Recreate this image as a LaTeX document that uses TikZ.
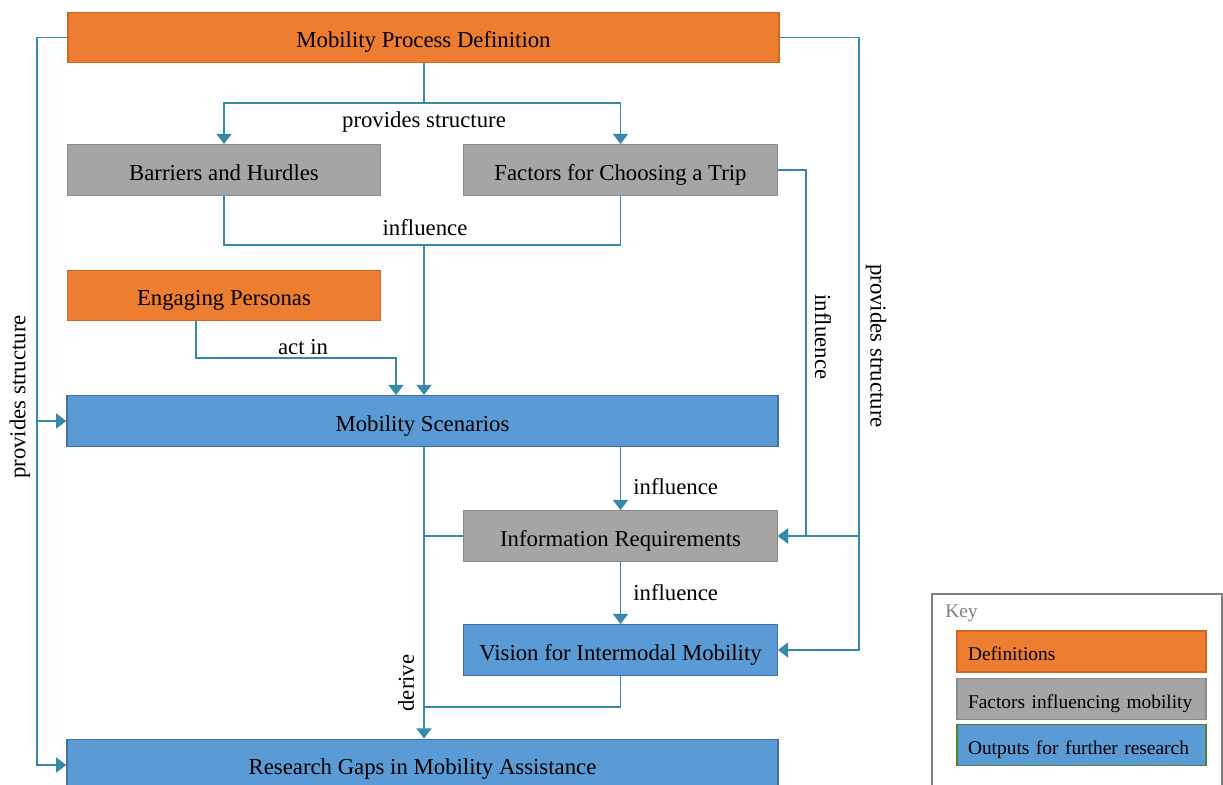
\documentclass[tikz,border=0pt]{standalone}
\usepackage{fontspec}
\setmainfont{Liberation Serif}
\usetikzlibrary{arrows.meta}

\definecolor{orgfill}{HTML}{ED7D31}
\definecolor{orgline}{HTML}{D2661E}
\definecolor{gryfill}{HTML}{A5A5A5}
\definecolor{gryline}{HTML}{8A8A8A}
\definecolor{blufill}{HTML}{5B9BD5}
\definecolor{bluline}{HTML}{41719C}
\definecolor{grnline}{HTML}{548235}
\definecolor{linkc}{HTML}{3889A8}
\definecolor{keyline}{HTML}{7F7F7F}

\newcommand{\mainsize}{\fontsize{12.9}{15}\selectfont}
\newcommand{\keysize}{\fontsize{11}{13}\selectfont}

\begin{document}
\begin{tikzpicture}[
  x=0.5667pt, y=-0.5667pt,
  box/.style={draw, line width=0.8pt, inner sep=0pt, font=\mainsize, text=black,
    text height=11.4pt, text depth=0pt},
  defn/.style={box, fill=orgfill, draw=orgline},
  factor/.style={box, fill=gryfill, draw=gryline},
  output/.style={box, fill=blufill, draw=bluline},
  wide/.style={minimum width=711*0.5667pt, minimum height=50.5*0.5667pt},
  half/.style={minimum width=313.5*0.5667pt, minimum height=50.5*0.5667pt},
  conn/.style={draw=linkc, line width=0.85pt},
  arr/.style={conn, -{Triangle[width=8.6pt,length=5.8pt]}},
  lbl/.style={font=\mainsize, inner sep=0pt},
  keyitem/.style={draw, line width=0.8pt, minimum width=249*0.5667pt, minimum height=41*0.5667pt,
    text width=(249-22)*0.5667pt, align=left, inner xsep=11*0.5667pt, inner ysep=0pt,
    font=\keysize, text height=10.6pt, text depth=0pt}
]
\clip (0,0) rectangle (1223,785);
\fill[white] (0,0) rectangle (1223,785);

% main boxes
\node[defn, wide]   (mpd)       at (423.5,37.5) {Mobility Process Definition};
\node[factor, half] (barriers)  at (224,170)    {Barriers and Hurdles};
\node[factor, half] (factors)   at (620.5,170)  {Factors for Choosing a Trip};
\node[defn, half]   (personas)  at (224,295.5)  {Engaging Personas};
\node[output, wide] (scenarios) at (422.5,421)  {Mobility Scenarios};
\node[factor, half] (inforeq)   at (620.5,536)  {Information Requirements};
\node[output, half] (vision)    at (620.5,650)  {Vision for Intermodal Mobility};
\node[output, wide] (research)  at (422.5,764.5) {Research Gaps in Mobility Assistance};

% routing points
\coordinate (split) at (424,103);
\coordinate (merge) at (424,245);
\coordinate (pa)    at (196,0);
\coordinate (pb)    at (396,358);
\coordinate (L)     at (37,765);
\coordinate (R)     at (859,650);
\coordinate (F)     at (806,0);
\coordinate (D)     at (424,707);

% definition -> barriers / factors
\draw[conn] (mpd.south -| split) -- (split);
\draw[arr] (split) -| (barriers.north);
\draw[arr] (split) -| (factors.north);
\node[lbl] (l1) at (424,122) {provides structure};

% barriers / factors -> scenarios
\draw[conn] (barriers.south) |- (merge) -| (factors.south);
\draw[arr] (merge) -- (merge |- scenarios.north);
\node[lbl] (l2) at (425,228) {influence};

% personas -> scenarios
\draw[arr] (personas.south -| pa) |- (pb) -- (pb |- scenarios.north);
\node[lbl] (l3) at (303,347) {act in};

% definition -> scenarios / research (left)
\draw[arr] (mpd.west) -| (L) -- (research.west |- L);
\draw[arr] (L |- scenarios.west) -- (scenarios.west);
\node[lbl, rotate=90] (l4) at (20,397) {provides structure};

% definition -> information requirements / vision (right)
\draw[arr] (mpd.east) -| (R) -- (vision.east |- R);
\draw[arr] (R |- inforeq.east) -- (inforeq.east);
\node[lbl, rotate=-90] (l5) at (876,346) {provides structure};

% factors -> information requirements
\draw[arr] (factors.east) -| (F |- inforeq.east) -- (inforeq.east);
\node[lbl, rotate=-90] (l6) at (823,337) {influence};

% scenarios -> information requirements -> vision
\draw[arr] (scenarios.south -| inforeq.north) -- (inforeq.north);
\node[lbl, anchor=west] (l7) at (633,487) {influence};
\draw[arr] (inforeq.south) -- (vision.north);
\node[lbl, anchor=west] (l8) at (633,593) {influence};

% derive research gaps
\draw[arr] (scenarios.south -| D) -- (research.north -| D);
\draw[conn] (inforeq.west) -- (inforeq.west -| D);
\draw[conn] (vision.south) |- (D);
\node[lbl, rotate=90] (l9) at (406,683) {derive};

% key
\draw[keyline, line width=0.85pt] (932,800) -- (932,594) -- (1222,594) -- (1222,800);
\node[anchor=west, font=\keysize, text=keyline, inner sep=0pt] (keytitle) at (945,613) {Key};
\node[keyitem, fill=orgfill, draw=orgline] (k1) at (1081.5,651.5) {Definitions};
\node[keyitem, fill=gryfill, draw=gryline] (k2) at (1081.5,699)   {Factors influencing mobility};
\node[keyitem, fill=blufill, draw=grnline] (k3) at (1081.5,745)   {Outputs for further research};
\end{tikzpicture}
\end{document}
